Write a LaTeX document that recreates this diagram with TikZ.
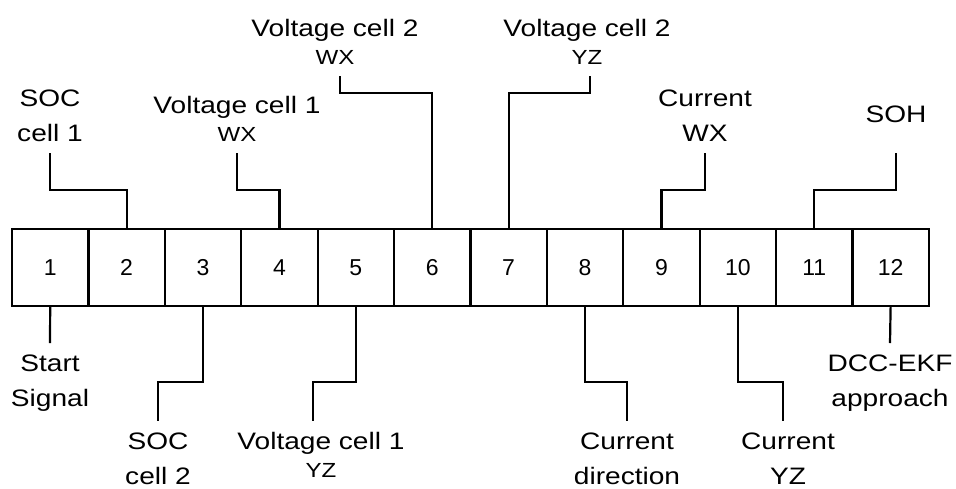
\documentclass[tikz,border=0pt]{standalone}
\usepackage{fontspec}
\setmainfont{Liberation Sans}[FakeStretch=1.18]
\newfontfamily\digitfont{Liberation Sans}
\usetikzlibrary{positioning}

\newcommand{\labelsz}{\fontsize{11.9}{17.5}\selectfont}
\newcommand{\subsz}{\fontsize{10.2}{14}\selectfont}

\tikzset{
  cellbox/.style={draw, line width=1.1pt, minimum width=38.2pt, minimum height=38.5pt,
    inner sep=0pt, font=\digitfont\fontsize{11.5}{13}\selectfont},
  lbl/.style={align=center, inner sep=5.5pt, font=\labelsz},
  wire/.style={line width=1.1pt}
}

\begin{document}
\begin{tikzpicture}[x=0.5pt, y=-0.5pt]
  \useasboundingbox (0,0) rectangle (956,488);

  % Frame cells
  \foreach \i in {1,...,12}
    \node[cellbox] (c\i) at ({12+76.4*(\i-0.5)}, 267.5) {\i};

  % Upper labels
  \node[lbl, anchor=south] (soc1) at (50,153) {SOC\\cell 1};
  \node[lbl, anchor=south] (v1wx) at (237,153) {Voltage cell 1\\[-3.5pt]{\subsz WX}};
  \node[lbl, anchor=south] (v2wx) at (335,76) {Voltage cell 2\\[-3.5pt]{\subsz WX}};
  \node[lbl, anchor=south] (v2yz) at (587,76) {Voltage cell 2\\[-3.5pt]{\subsz YZ}};
  \node[lbl, anchor=south] (iwx) at (705,153) {Current\\WX};
  \node[lbl, anchor=south, inner ysep=15pt] (soh) at (896,153) {SOH};

  % Upper connectors
  \draw[wire] (c2.north) -- ++(0,-38) -| (soc1.south);
  \draw[wire] (c4.north) -- ++(0,-38) -| (v1wx.south);
  \draw[wire] (c6.north) -- ++(0,-135) -| ([xshift=2.5pt]v2wx.south);
  \draw[wire] (c7.north) -- ++(0,-135) -| ([xshift=1.5pt]v2yz.south);
  \draw[wire] (c9.north) -- ++(0,-38) -| (iwx.south);
  \draw[wire] (c11.north) -- ++(0,-38) -| (soh.south);

  % Lower labels
  \node[lbl, anchor=north] (start) at (50,343) {Start\\Signal};
  \node[lbl, anchor=north] (soc2) at (158,421) {SOC\\cell 2};
  \node[lbl, anchor=north] (v1yz) at (321,421) {Voltage cell 1\\[-3.5pt]{\subsz YZ}};
  \node[lbl, anchor=north] (idir) at (627,421) {Current\\direction};
  \node[lbl, anchor=north] (iyz) at (788,421) {Current\\YZ};
  \node[lbl, anchor=north] (dcc) at (890,343) {DCC-EKF\\approach};

  % Lower connectors
  \draw[wire] (c1.south) -- (start.north);
  \draw[wire] (c3.south) -- ++(0,75) -| (soc2.north);
  \draw[wire] (c5.south) -- ++(0,75) -| ([xshift=-4pt]v1yz.north);
  \draw[wire] (c8.south) -- ++(0,75) -| (idir.north);
  \draw[wire] (c10.south) -- ++(0,75) -| ([xshift=-2.5pt]iyz.north);
  \draw[wire] (c12.south) -- (dcc.north);
\end{tikzpicture}
\end{document}
